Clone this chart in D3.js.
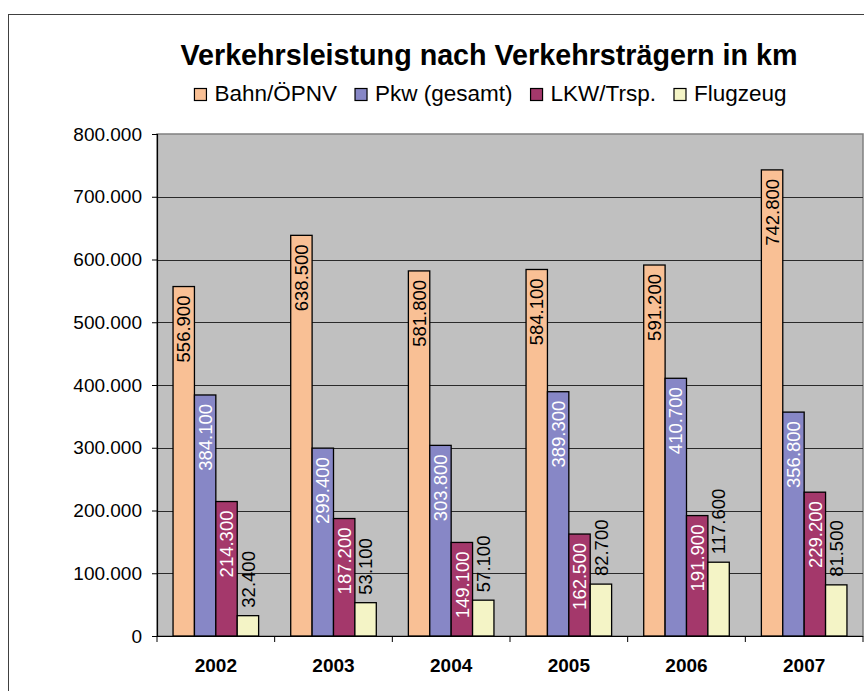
<!DOCTYPE html>
<html>
<head>
<meta charset="utf-8">
<script src="https://cdn.jsdelivr.net/npm/d3@7"></script>
<style>
  html, body { margin: 0; padding: 0; background: #ffffff; }
  svg { display: block; font-family: Arial, "Liberation Sans", sans-serif; }
</style>
</head>
<body>
<svg id="chart" width="864" height="691"></svg>
<script>
// ---- data ----
const years = ["2002", "2003", "2004", "2005", "2006", "2007"];
const seriesNames = ["Bahn/ÖPNV", "Pkw (gesamt)", "LKW/Trsp.", "Flugzeug"];
const bahn = [556900, 638500, 581800, 584100, 591200, 742800];
const pkw = [384100, 299400, 303800, 389300, 410700, 356800];
const lkw = [214300, 187200, 149100, 162500, 191900, 229200];
const flugzeug = [32400, 53100, 57100, 82700, 117600, 81500];
const yTicks = [0, 100000, 200000, 300000, 400000, 500000, 600000, 700000, 800000];
const titleText = "Verkehrsleistung nach Verkehrsträgern in km";

// ---- styles ----
const colors = ["#F9C095", "#8787C6", "#A4386B", "#F4F4C6"];
const labelColors = ["#000000", "#ffffff", "#ffffff", "#000000"];
const labelInside = [true, true, true, false];

const seriesValues = [bahn, pkw, lkw, flugzeug];
const rows = years.map((y, i) => ({ year: y, values: seriesValues.map(s => s[i]) }));

const de = d3.formatLocale({ decimal: ",", thousands: ".", grouping: [3], currency: ["", " €"] });
const fmt = de.format(",d");

const svg = d3.select("#chart");

// outer chart border
svg.append("rect")
  .attr("x", 8.5).attr("y", 14.5)
  .attr("width", 900).attr("height", 690)
  .attr("fill", "#ffffff").attr("stroke", "#404040").attr("stroke-width", 1);

const plot = { left: 157, right: 863, top: 134, bottom: 636 };

const x0 = d3.scaleBand().domain(years)
  .range([plot.left, plot.right])
  .paddingInner(1.5 / 5.5).paddingOuter(0.75 / 5.5);
const x1 = d3.scaleBand().domain(d3.range(4)).range([0, x0.bandwidth()]).padding(0);
const y = d3.scaleLinear().domain([0, 800000]).range([plot.bottom, plot.top]);

// plot area
svg.append("rect")
  .attr("x", plot.left).attr("y", plot.top)
  .attr("width", plot.right - plot.left).attr("height", plot.bottom - plot.top)
  .attr("fill", "#C0C0C0").attr("stroke", "#808080").attr("stroke-width", 1.5);

// gridlines
svg.append("g").selectAll("line")
  .data(yTicks.filter(t => t > 0 && t < 800000))
  .join("line")
  .attr("x1", plot.left).attr("x2", plot.right)
  .attr("y1", d => Math.round(y(d)) + 0.5).attr("y2", d => Math.round(y(d)) + 0.5)
  .attr("stroke", "#2a2a2a").attr("stroke-width", 1);

// y axis
const yAxis = d3.axisLeft(y).tickValues(yTicks).tickSize(5).tickPadding(10)
  .tickFormat(d => fmt(d));
const gy = svg.append("g").attr("transform", `translate(${plot.left},0)`).call(yAxis);
gy.select(".domain").attr("stroke", "#000").attr("stroke-width", 1.2);
gy.selectAll(".tick line").attr("stroke", "#000");
gy.selectAll(".tick text")
  .attr("fill", "#000").attr("font-size", 19)
  .attr("font-family", "Arial, 'Liberation Sans', sans-serif");

// bars
const groups = svg.append("g").selectAll("g")
  .data(rows).join("g")
  .attr("transform", d => `translate(${x0(d.year)},0)`);

groups.selectAll("rect")
  .data(d => d.values.map((v, i) => ({ v, i })))
  .join("rect")
  .attr("x", d => x1(d.i))
  .attr("y", d => y(d.v))
  .attr("width", x1.bandwidth())
  .attr("height", d => y(0) - y(d.v))
  .attr("fill", d => colors[d.i])
  .attr("stroke", "#000").attr("stroke-width", 1.3);

// data labels (rotated)
groups.selectAll("text")
  .data(d => d.values.map((v, i) => ({ v, i })))
  .join("text")
  .attr("transform", d => {
    const cx = x1(d.i) + x1.bandwidth() / 2;
    const yy = labelInside[d.i] ? y(d.v) + 9 : y(d.v) - 8;
    return `translate(${cx},${yy}) rotate(-90)`;
  })
  .attr("text-anchor", d => labelInside[d.i] ? "end" : "start")
  .attr("dy", "0.36em")
  .attr("font-size", 18.5)
  .attr("fill", d => labelColors[d.i])
  .text(d => fmt(d.v));

// x axis
const xAxisLine = svg.append("g");
xAxisLine.append("line")
  .attr("x1", plot.left).attr("x2", plot.right)
  .attr("y1", plot.bottom + 0.5).attr("y2", plot.bottom + 0.5)
  .attr("stroke", "#000").attr("stroke-width", 1.2);
const step = x0.step();
xAxisLine.selectAll("line.tick")
  .data(d3.range(years.length + 1))
  .join("line").attr("class", "tick")
  .attr("x1", i => plot.left + i * (plot.right - plot.left) / years.length)
  .attr("x2", i => plot.left + i * (plot.right - plot.left) / years.length)
  .attr("y1", plot.bottom).attr("y2", plot.bottom + 6)
  .attr("stroke", "#000");
xAxisLine.selectAll("text")
  .data(years).join("text")
  .attr("x", d => x0(d) + x0.bandwidth() / 2)
  .attr("y", 671.5)
  .attr("text-anchor", "middle")
  .attr("font-size", 19).attr("font-weight", "bold")
  .text(d => d);

// title
svg.append("text")
  .attr("x", 489).attr("y", 65)
  .attr("text-anchor", "middle")
  .attr("font-size", 28.7).attr("font-weight", "bold")
  .text(titleText);

// legend
const legend = svg.append("g");
const items = legend.selectAll("g").data(seriesNames).join("g");
items.append("rect")
  .attr("x", 0).attr("y", 88.5).attr("width", 12).attr("height", 12)
  .attr("fill", (d, i) => colors[i]).attr("stroke", "#000").attr("stroke-width", 1.2);
items.append("text")
  .attr("x", 20).attr("y", 100.5)
  .attr("font-size", 22.5)
  .text(d => d);
let cur = 0;
const widths = [];
items.each(function () {
  const w = this.querySelector("text").getComputedTextLength() + 20;
  widths.push(w);
});
const gap = 18;
const total = d3.sum(widths) + gap * (widths.length - 1);
cur = 490.5 - total / 2;
items.attr("transform", (d, i) => {
  const t = `translate(${cur},0)`;
  cur += widths[i] + gap;
  return t;
});
</script>
</body>
</html>
